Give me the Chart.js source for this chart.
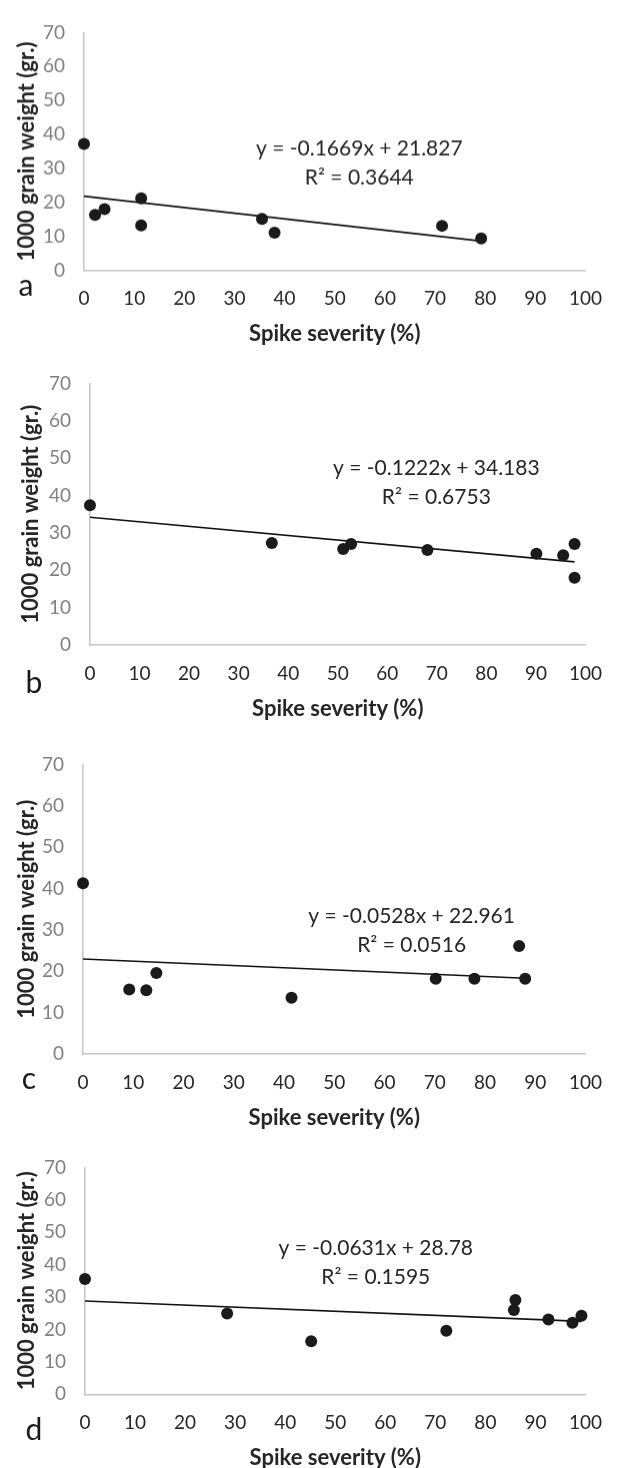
<!DOCTYPE html>
<html>
<head>
<meta charset="utf-8">
<script src="https://cdn.jsdelivr.net/npm/chart.js@4.4.0/dist/chart.umd.min.js"></script>
<style>
  html, body { margin: 0; padding: 0; background: #fff; overflow: hidden; }
  body { width: 619px; height: 1468px; position: relative; }
  .panel { position: absolute; left: 0; width: 619px; }
</style>
</head>
<body>
<div class="panel" id="wrap0"><canvas id="chart0"></canvas></div>
<div class="panel" id="wrap1"><canvas id="chart1"></canvas></div>
<div class="panel" id="wrap2"><canvas id="chart2"></canvas></div>
<div class="panel" id="wrap3"><canvas id="chart3"></canvas></div>
<script>
// Values (x = spike severity %, y = 1000 grain weight g)
const panelLetters = ["a", "b", "c", "d"];
const xTicks = [0, 10, 20, 30, 40, 50, 60, 70, 80, 90, 100];
const yTicks = [0, 10, 20, 30, 40, 50, 60, 70];

const severityA = [0, 2.2, 4.1, 11.4, 11.4, 35.5, 38.0, 71.4, 79.2];
const weightA   = [37.2, 16.3, 18.0, 21.2, 13.2, 15.1, 11.1, 13.1, 9.4];

const severityB = [0, 36.7, 51.1, 52.7, 68.1, 90.1, 95.5, 97.8, 97.8];
const weightB   = [37.4, 27.3, 25.7, 27.0, 25.4, 24.4, 24.0, 27.0, 18.0];

const severityC = [0, 9.2, 12.6, 14.6, 41.5, 70.2, 77.9, 86.8, 88.0];
const weightC   = [41.3, 15.6, 15.4, 19.6, 13.6, 18.2, 18.2, 26.1, 18.2];

const severityD = [0, 28.4, 45.2, 72.2, 85.7, 86.0, 92.6, 97.4, 99.2];
const weightD   = [35.6, 24.9, 16.4, 19.6, 26.0, 29.1, 23.1, 22.1, 24.2];

// linear trendlines as printed on each panel
const slopes = [-0.1669, -0.1222, -0.0528, -0.0631];
const intercepts = [21.827, 34.183, 22.961, 28.78];
const equationLabels = ["y = -0.1669x + 21.827", "y = -0.1222x + 34.183", "y = -0.0528x + 22.961", "y = -0.0631x + 28.78"];
const r2Labels = ["R\u00B2 = 0.3644", "R\u00B2 = 0.6753", "R\u00B2 = 0.0516", "R\u00B2 = 0.1595"];

const severities = [severityA, severityB, severityC, severityD];
const weights = [weightA, weightB, weightC, weightD];

// page geometry of each plot area (px)
const layouts = [
  { top: 22,   bottom: 269.5,  left: 84, right: 586, eqX: 54.9, eqY: 35.8, letterX: 26, letterY: 295,  titleX: 27 },
  { top: 373,  bottom: 645,    left: 90, right: 600, eqX: 69.9, eqY: 47.2, letterX: 34, letterY: 693,  titleX: 31 },
  { top: 754,  bottom: 1054,   left: 83, right: 599, eqX: 65.4, eqY: 33.2, letterX: 29, letterY: 1089, titleX: 27 },
  { top: 1157, bottom: 1394.3, left: 85, right: 601, eqX: 58.1, eqY: 45.2, letterX: 34, letterY: 1440, titleX: 27 }
];

const FONT = "Lato, 'Open Sans', sans-serif";
const PAD_TOP = 20;
const X_AXIS_H = 80;

// equation text + panel letter
const annotate = {
  id: "annotate",
  afterDatasetsDraw(chart, args, opts) {
    const { ctx, scales: { x, y } } = chart;
    ctx.save();
    ctx.fillStyle = "#262626";
    ctx.font = "21px " + FONT;
    ctx.textAlign = "center";
    ctx.textBaseline = "middle";
    const px = x.getPixelForValue(opts.eqX);
    const py = y.getPixelForValue(opts.eqY);
    ctx.fillText(opts.equation, px, py);
    ctx.fillText(opts.r2, px, py + 29);
    ctx.fillStyle = "#1a1a1a";
    ctx.font = "30px " + FONT;
    ctx.textBaseline = "alphabetic";
    ctx.fillText(opts.letter, opts.letterX, opts.letterY);
    ctx.restore();
  }
};

layouts.forEach((L, i) => {
  const canvasTop = L.top - PAD_TOP;
  const height = (L.bottom - L.top) + PAD_TOP + X_AXIS_H;
  const wrap = document.getElementById("wrap" + i);
  wrap.style.top = canvasTop + "px";
  wrap.style.height = height + "px";

  const xs = severities[i];
  const ys = weights[i];
  const points = xs.map((v, k) => ({ x: v, y: ys[k] }));
  const xMin = Math.min(...xs);
  const xMax = Math.max(...xs);
  const trend = [
    { x: xMin, y: slopes[i] * xMin + intercepts[i] },
    { x: xMax, y: slopes[i] * xMax + intercepts[i] }
  ];

  new Chart(document.getElementById("chart" + i), {
    type: "scatter",
    data: {
      datasets: [
        {
          label: "Samples",
          data: points,
          pointRadius: 6,
          pointBackgroundColor: "#1a1a1a",
          pointBorderWidth: 0,
          clip: false
        },
        {
          type: "line",
          label: "Trend",
          data: trend,
          borderColor: "#111111",
          borderWidth: 1.7,
          pointRadius: 0,
          fill: false,
          clip: false
        }
      ]
    },
    options: {
      responsive: true,
      maintainAspectRatio: false,
      animation: false,
      events: [],
      layout: { padding: { top: PAD_TOP, left: 0, right: 619 - L.right, bottom: 0 } },
      plugins: {
        legend: { display: false },
        tooltip: { enabled: false },
        annotate: {
          eqX: L.eqX, eqY: L.eqY,
          equation: equationLabels[i], r2: r2Labels[i],
          letter: panelLetters[i],
          letterX: L.letterX, letterY: L.letterY - canvasTop
        }
      },
      scales: {
        x: {
          type: "linear",
          min: xTicks[0],
          max: xTicks[xTicks.length - 1],
          afterBuildTicks: s => { s.ticks = xTicks.map(v => ({ value: v })); },
          ticks: { color: "#262626", font: { family: FONT, size: 19 }, padding: 17 },
          grid: { display: false, drawTicks: false },
          border: { display: true, color: "#c6c6c6", width: 1.5 },
          title: {
            display: true,
            text: "Spike severity (%)",
            color: "#262626",
            font: { family: FONT, size: 22, weight: "bold" },
            padding: { top: 0, bottom: 3 }
          },
          afterFit: s => { s.height = X_AXIS_H; }
        },
        y: {
          min: yTicks[0],
          max: yTicks[yTicks.length - 1],
          afterBuildTicks: s => { s.ticks = yTicks.map(v => ({ value: v })); },
          ticks: { color: "#808080", font: { family: FONT, size: 19 }, padding: 19 },
          grid: { display: false, drawTicks: false },
          border: { display: true, color: "#c6c6c6", width: 1.5 },
          title: {
            display: true,
            text: "1000 grain weight (gr.)",
            color: "#262626",
            font: { family: FONT, size: 22, weight: "bold" },
            padding: { top: L.titleX - 13.2, bottom: 0 }
          },
          afterFit: s => { s.width = L.left; }
        }
      }
    },
    plugins: [annotate]
  });
});
</script>
</body>
</html>
